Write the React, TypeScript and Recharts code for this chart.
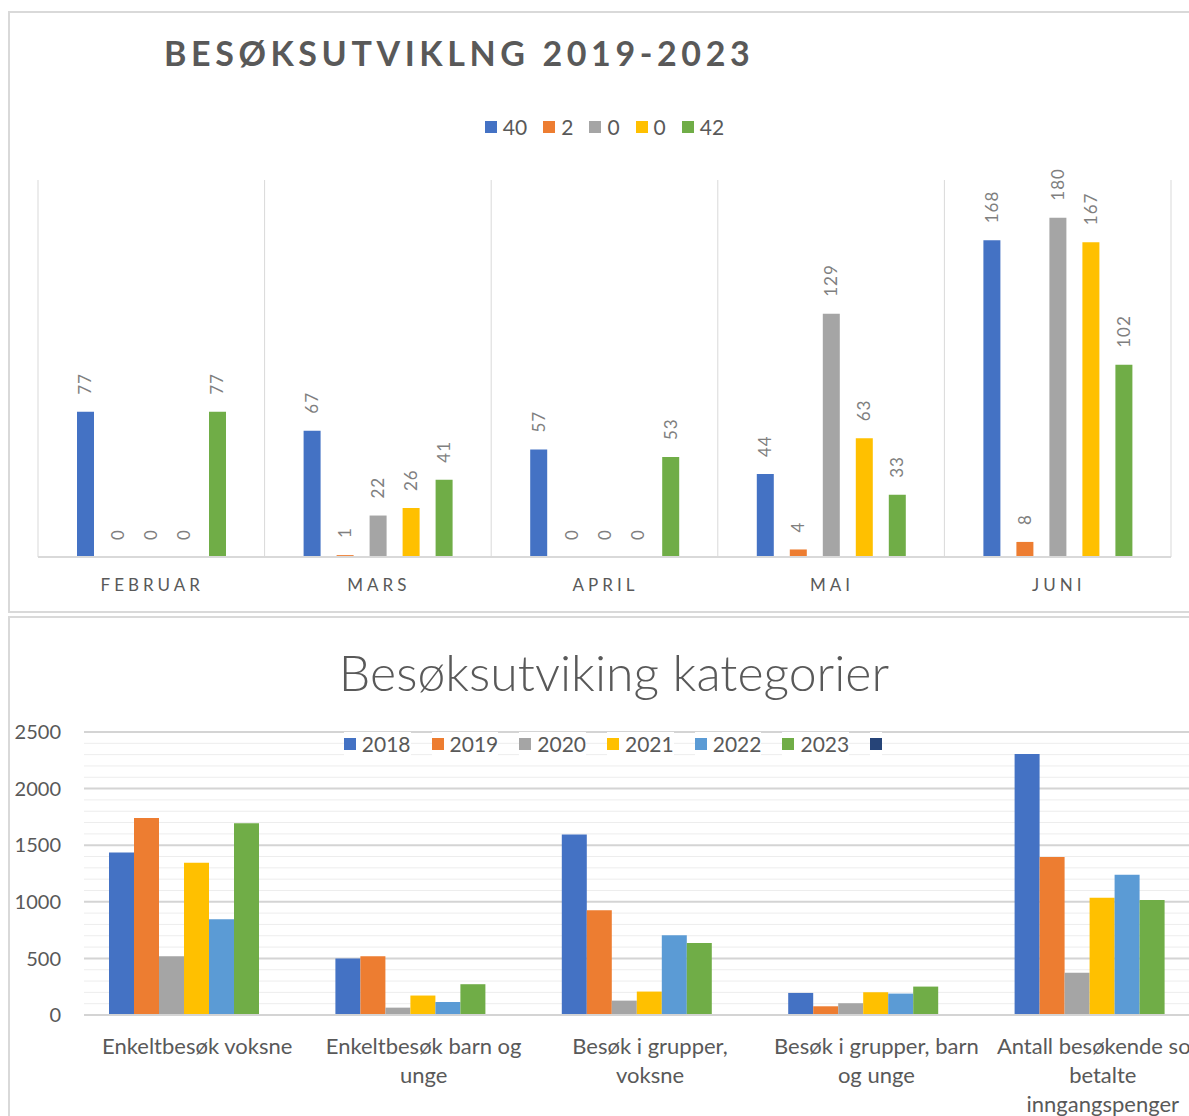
import {
  BarChart,
  Bar,
  XAxis,
  YAxis,
  CartesianGrid,
  Legend,
  LabelList,
} from "recharts";

// ---- top chart: månedlig besøk ----
const months = ["FEBRUAR", "MARS", "APRIL", "MAI", "JUNI"];
const seriesA = [77, 67, 57, 44, 168];
const seriesB = [0, 1, 0, 4, 8];
const seriesC = [0, 22, 0, 129, 180];
const seriesD = [0, 26, 0, 63, 167];
const seriesE = [77, 41, 53, 33, 102];

const monthSeries = [
  { key: "a", name: "40", color: "#4472C4", values: seriesA },
  { key: "b", name: "2", color: "#ED7D31", values: seriesB },
  { key: "c", name: "0", color: "#A5A5A5", values: seriesC },
  { key: "d", name: "0", color: "#FFC000", values: seriesD },
  { key: "e", name: "42", color: "#70AD47", values: seriesE },
];

const monthData = months.map((m, i) => {
  const row: any = { month: m };
  monthSeries.forEach((s) => (row[s.key] = s.values[i]));
  return row;
});

// ---- bottom chart: kategorier ----
const categories = [
  "Enkeltbesøk voksne",
  "Enkeltbesøk barn og unge",
  "Besøk i grupper, voksne",
  "Besøk i grupper, barn og unge",
  "Antall besøkende som betalte inngangspenger",
];
const y2018 = [1435, 500, 1595, 195, 2305];
const y2019 = [1740, 520, 925, 77, 1395];
const y2020 = [520, 65, 127, 104, 373];
const y2021 = [1345, 172, 207, 201, 1036];
const y2022 = [846, 115, 704, 189, 1240];
const y2023 = [1695, 272, 636, 251, 1015];
const yBlank = [null, null, null, null, null];

const yearSeries = [
  { key: "y2018", name: "2018", color: "#4472C4", values: y2018 },
  { key: "y2019", name: "2019", color: "#ED7D31", values: y2019 },
  { key: "y2020", name: "2020", color: "#A5A5A5", values: y2020 },
  { key: "y2021", name: "2021", color: "#FFC000", values: y2021 },
  { key: "y2022", name: "2022", color: "#5B9BD5", values: y2022 },
  { key: "y2023", name: "2023", color: "#70AD47", values: y2023 },
  { key: "blank", name: "", color: "#264478", values: yBlank },
];

const yMax = 2500;
const yTicks = [0, 500, 1000, 1500, 2000, 2500];
const minorTicks = [
  100, 200, 300, 400, 600, 700, 800, 900, 1100, 1200, 1300, 1400, 1600, 1700,
  1800, 1900, 2100, 2200, 2300, 2400,
];

const catData = categories.map((c, i) => {
  const row: any = { cat: c };
  yearSeries.forEach((s) => (row[s.key] = s.values[i]));
  return row;
});

const FONT = "Lato, 'Open Sans', sans-serif";
const GREY = "#595959";

let measureCtx: CanvasRenderingContext2D | null = null;
function wrapWords(text: string, maxWidth: number, font: string) {
  if (!measureCtx) measureCtx = document.createElement("canvas").getContext("2d");
  const ctx = measureCtx!;
  ctx.font = font;
  const lines: string[] = [];
  let cur = "";
  text.split(" ").forEach((w) => {
    const test = cur ? cur + " " + w : w;
    if (cur && ctx.measureText(test).width > maxWidth) {
      lines.push(cur);
      cur = w;
    } else {
      cur = test;
    }
  });
  if (cur) lines.push(cur);
  return lines;
}

function makeLegend(items: any[], gap: number) {
  return () => (
    <div
      style={{
        display: "flex",
        justifyContent: "center",
        fontFamily: FONT,
        fontSize: 21,
        color: GREY,
        lineHeight: "24px",
      }}
    >
      {items.map((s, i) => (
        <span
          key={i}
          style={{
            display: "inline-flex",
            alignItems: "center",
            marginRight: i < items.length - 1 ? gap : 0,
            background: "#fff",
          }}
        >
          <span
            style={{
              width: 12,
              height: 12,
              background: s.color,
              display: "inline-block",
              marginRight: s.name ? 6 : 0,
            }}
          />
          {s.name}
        </span>
      ))}
    </div>
  );
}

function ValueLabel(props: any) {
  const { x, y, width, value } = props;
  if (x == null || y == null) return null;
  const cx = x + width / 2;
  const ty = y - 17;
  return (
    <text
      x={cx}
      y={ty}
      dy="0.35em"
      transform={`rotate(-90 ${cx} ${ty})`}
      textAnchor="start"
      fill="#7f7f7f"
      fontSize={17}
      letterSpacing={1}
      style={{ fontFamily: FONT }}
    >
      {String(value)}
    </text>
  );
}

function MonthTick(props: any) {
  const { x, y, payload } = props;
  return (
    <text
      x={x + 1}
      y={y + 34}
      textAnchor="middle"
      fill={GREY}
      fontSize={17}
      letterSpacing={4}
      style={{ fontFamily: FONT }}
    >
      {payload.value}
    </text>
  );
}

function CategoryTick(props: any) {
  const { x, y, payload } = props;
  const lines = wrapWords(String(payload.value), 221, "22px Lato");
  return (
    <text
      x={x}
      y={y + 15}
      textAnchor="middle"
      fill={GREY}
      fontSize={22}
      style={{ fontFamily: FONT }}
    >
      {lines.map((l, i) => (
        <tspan key={i} x={x} dy={i === 0 ? 0 : 29}>
          {l}
        </tspan>
      ))}
    </text>
  );
}

function MonthChart() {
  return (
    <div
      style={{
        position: "absolute",
        left: 8,
        top: 11,
        width: 1200,
        height: 598,
        border: "2px solid #d9d9d9",
      }}
    >
      <div
        style={{
          position: "absolute",
          left: 154,
          top: 20,
          fontFamily: FONT,
          fontWeight: 700,
          fontSize: 34,
          letterSpacing: 4.6,
          color: GREY,
          lineHeight: "40px",
          whiteSpace: "nowrap",
        }}
      >
        BESØKSUTVIKLNG 2019-2023
      </div>
      <BarChart
        width={1190}
        height={598}
        data={monthData}
        margin={{ top: 167, right: 29, left: 28, bottom: 0 }}
        barCategoryGap={39}
        barGap={16}
      >
        <CartesianGrid
          horizontal={false}
          stroke="#d9d9d9"
          verticalCoordinatesGenerator={({ offset }: any) =>
            Array.from(
              { length: months.length + 1 },
              (_, i) => offset.left + (i * offset.width) / months.length
            )
          }
        />
        <XAxis
          dataKey="month"
          tickLine={false}
          tickSize={0}
          tickMargin={0}
          height={54}
          axisLine={{ stroke: "#d9d9d9", strokeWidth: 2 }}
          tick={<MonthTick />}
          interval={0}
        />
        <YAxis hide domain={[0, 200]} />
        <Legend
          verticalAlign="middle"
          align="center"
          layout="horizontal"
          wrapperStyle={{ top: 102 }}
          content={makeLegend(monthSeries, 16)}
        />
        {monthSeries.map((s) => (
          <Bar
            key={s.key}
            dataKey={s.key}
            name={s.name}
            fill={s.color}
            minPointSize={0.01}
            isAnimationActive={false}
          >
            <LabelList dataKey={s.key} content={<ValueLabel />} />
          </Bar>
        ))}
      </BarChart>
    </div>
  );
}

function CategoryChart() {
  return (
    <div
      style={{
        position: "absolute",
        left: 8,
        top: 616,
        width: 1230,
        height: 520,
        border: "2px solid #d9d9d9",
      }}
    >
      <div
        style={{
          position: "absolute",
          left: 0,
          width: 1208,
          top: 24,
          textAlign: "center",
          fontFamily: FONT,
          fontWeight: 300,
          fontSize: 50,
          color: GREY,
          lineHeight: "60px",
          whiteSpace: "nowrap",
        }}
      >
        Besøksutviking kategorier
      </div>
      <BarChart
        width={1216}
        height={500}
        data={catData}
        margin={{ top: 114, right: 10, left: 0, bottom: 0 }}
        barCategoryGap={25}
        barGap={0}
      >
        <CartesianGrid
          vertical={false}
          stroke="#ededed"
          horizontalCoordinatesGenerator={({ yAxis, offset }: any) =>
            minorTicks.map((v) =>
              yAxis && typeof yAxis.scale === "function"
                ? yAxis.scale(v)
                : offset.top + offset.height * (1 - v / yMax)
            )
          }
        />
        <CartesianGrid
          vertical={false}
          stroke="#d4d4d4"
          strokeWidth={2}
          syncWithTicks
        />
        <XAxis
          dataKey="cat"
          tickLine={false}
          tickSize={0}
          tickMargin={24}
          height={103}
          axisLine={{ stroke: "#d4d4d4", strokeWidth: 2 }}
          tick={<CategoryTick />}
          interval={0}
        />
        <YAxis
          domain={[0, yMax]}
          ticks={yTicks}
          width={74}
          axisLine={false}
          tickLine={false}
          tickSize={0}
          tickMargin={23}
          tick={{ fill: GREY, fontSize: 20, fontFamily: FONT }}
        />
        <Legend
          verticalAlign="middle"
          align="center"
          layout="horizontal"
          wrapperStyle={{ top: 114 }}
          content={makeLegend(yearSeries, 21)}
        />
        {yearSeries.map((s) => (
          <Bar
            key={s.key}
            dataKey={s.key}
            name={s.name}
            fill={s.color}
            isAnimationActive={false}
          />
        ))}
      </BarChart>
    </div>
  );
}

export default function App() {
  return (
    <div
      style={{
        position: "fixed",
        left: 0,
        top: 0,
        width: 1189,
        height: 1116,
        overflow: "hidden",
        background: "#fff",
      }}
    >
      <MonthChart />
      <CategoryChart />
    </div>
  );
}
